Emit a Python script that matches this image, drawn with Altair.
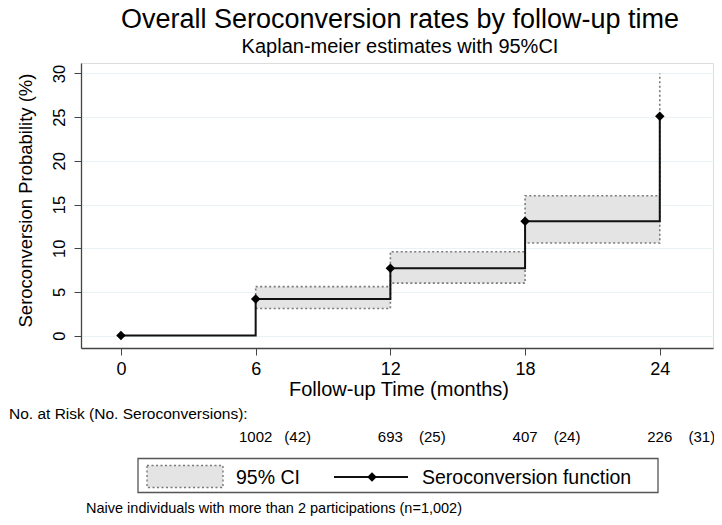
import altair as alt
import pandas as pd

# ---- data ----
time = [0, 6, 12, 18, 24]
estimate = [0.0, 4.2, 7.7, 13.1, 25.1]

ci_time = [6, 12, 18, 24]
ci_lower = [3.1, 6.0, 10.6, 20.5]
ci_upper = [5.6, 9.6, 16.0, 30.0]

risk_time = [6, 12, 18, 24]
at_risk = [1002, 693, 407, 226]
seroconversions = [42, 25, 24, 31]

x_ticks = [0, 6, 12, 18, 24]
y_ticks = [0, 5, 10, 15, 20, 25, 30]

title_text = "Overall Seroconversion rates by follow-up time"
subtitle_text = "Kaplan-meier estimates with 95%CI"

FONT = "Liberation Sans"
W, H = 632, 285

km = pd.DataFrame({"time": time, "est": estimate})
ci = pd.DataFrame({"time": ci_time, "lo": ci_lower, "hi": ci_upper})
risk = pd.DataFrame({
    "time": risk_time,
    "n": [str(v) for v in at_risk],
    "ev": [f"({v})" for v in seroconversions],
})
one = pd.DataFrame({"k": [0]})

xs = alt.Scale(domain=[-1.78, 26.37], nice=False, zero=False)
ys = alt.Scale(domain=[-1.42, 31.2], nice=False, zero=False)

x_enc = alt.X(
    "time:Q", scale=xs,
    axis=alt.Axis(
        values=x_ticks, title="Follow-up Time (months)", grid=False,
        labelFontSize=18, labelFont=FONT, labelColor="#000",
        tickSize=7, tickColor="#444", domainColor="#444", domainWidth=1.3,
        labelPadding=5, titleFont=FONT, titleFontSize=20, titleFontWeight="normal",
        titleColor="#000", titleX=317.5, titleY=47, titleBaseline="alphabetic",
    ),
)
y_axis = alt.Axis(
    values=y_ticks, title="Seroconversion Probability (%)",
    grid=True, gridColor="#e9f2f4", gridWidth=1,
    labelFontSize=16.5, labelFont=FONT, labelColor="#000", labelAngle=270,
    labelAlign="center", labelBaseline="bottom", labelPadding=7,
    tickSize=7, tickColor="#444", domainColor="#444", domainWidth=1.3,
    titleFont=FONT, titleFontSize=18.5, titleFontWeight="normal", titleColor="#000",
    titleAngle=270, titleX=-56, titleY=137, titleBaseline="middle", titleAlign="center",
)

DOT = [2, 2.5]
GREY = "#7a7a7a"

band = alt.Chart(ci).mark_area(interpolate="step-after", color="#e4e4e4", opacity=1).encode(
    x=x_enc, y=alt.Y("lo:Q", scale=ys, axis=y_axis), y2="hi:Q"
)
upper = alt.Chart(ci).mark_line(interpolate="step-after", color=GREY,
                                strokeDash=DOT, strokeWidth=1.6).encode(
    x="time:Q", y=alt.Y("hi:Q", scale=ys)
)
lower = alt.Chart(ci).mark_line(interpolate="step-after", color=GREY,
                                strokeDash=DOT, strokeWidth=1.6).encode(
    x="time:Q", y=alt.Y("lo:Q", scale=ys)
)
left_edge = alt.Chart(ci).transform_filter(alt.datum.time == ci_time[0]).mark_rule(
    color=GREY, strokeDash=DOT, strokeWidth=1.6).encode(
    x="time:Q", y=alt.Y("lo:Q", scale=ys), y2="hi:Q"
)
step = alt.Chart(km).mark_line(interpolate="step-after", color="#111", strokeWidth=2).encode(
    x="time:Q", y=alt.Y("est:Q", scale=ys)
)
pts = alt.Chart(km).mark_point(shape="diamond", filled=True, color="#000", size=90, opacity=1).encode(
    x="time:Q", y=alt.Y("est:Q", scale=ys)
)

# ---- titles ----
title = alt.Chart(one).mark_text(text=title_text, font=FONT, fontSize=27, align="center",
                                 baseline="alphabetic", color="#000").encode(
    x=alt.value(319), y=alt.value(-35)
)
subtitle = alt.Chart(one).mark_text(text=subtitle_text, font=FONT, fontSize=20, align="center",
                                    baseline="alphabetic", color="#000").encode(
    x=alt.value(319), y=alt.value(-10)
)

# ---- number at risk table ----
risk_label = alt.Chart(one).mark_text(
    text="No. at Risk (No. Seroconversions):", font=FONT, fontSize=15.5,
    align="left", baseline="alphabetic", color="#000").encode(
    x=alt.value(-72), y=alt.value(356)
)
risk_n = alt.Chart(risk).mark_text(font=FONT, fontSize=15, align="center",
                                   baseline="alphabetic", color="#000").encode(
    x=alt.X("time:Q", scale=xs), y=alt.value(378.5), text="n:N"
)
risk_ev = alt.Chart(risk).mark_text(font=FONT, fontSize=15, align="center",
                                    baseline="alphabetic", color="#000", dx=42).encode(
    x=alt.X("time:Q", scale=xs), y=alt.value(378.5), text="ev:N"
)

# ---- legend ----
leg_box = alt.Chart(one).mark_rect(fill="white", stroke="#555", strokeWidth=1.3).encode(
    x=alt.value(57), x2=alt.value(577), y=alt.value(395.5), y2=alt.value(429.5)
)
leg_swatch = alt.Chart(one).mark_rect(fill="#e4e4e4", stroke=GREY,
                                      strokeDash=DOT, strokeWidth=1.4).encode(
    x=alt.value(66), x2=alt.value(142), y=alt.value(402.5), y2=alt.value(424.5)
)
leg_ci_text = alt.Chart(one).mark_text(text="95% CI", font=FONT, fontSize=19.5,
                                       align="left", baseline="alphabetic", color="#000").encode(
    x=alt.value(155), y=alt.value(420.5)
)
leg_line = alt.Chart(one).mark_rule(color="#111", strokeWidth=2).encode(
    x=alt.value(253), x2=alt.value(327), y=alt.value(414)
)
leg_pt = alt.Chart(one).mark_point(shape="diamond", filled=True, color="#000",
                                   size=90, opacity=1).encode(
    x=alt.value(291), y=alt.value(414)
)
leg_fn_text = alt.Chart(one).mark_text(text="Seroconversion function", font=FONT, fontSize=19.5,
                                       align="left", baseline="alphabetic", color="#000").encode(
    x=alt.value(341), y=alt.value(420.5)
)
footnote = alt.Chart(one).mark_text(
    text="Naive individuals with more than 2 participations (n=1,002)",
    font=FONT, fontSize=14.5, align="left", baseline="alphabetic", color="#000").encode(
    x=alt.value(5), y=alt.value(449.5)
)

chart = alt.layer(
    band, upper, lower, left_edge, step, pts,
    title, subtitle,
    risk_label, risk_n, risk_ev,
    leg_box, leg_swatch, leg_ci_text, leg_line, leg_pt, leg_fn_text, footnote,
).properties(
    width=W, height=H,
    autosize=alt.AutoSizeParams(type="none"),
    padding={"left": 73, "top": 55, "right": 1, "bottom": 169},
).configure_view(stroke=None).configure(background="white")

chart.save("out.html", embed_options={"renderer": "svg", "actions": False})
